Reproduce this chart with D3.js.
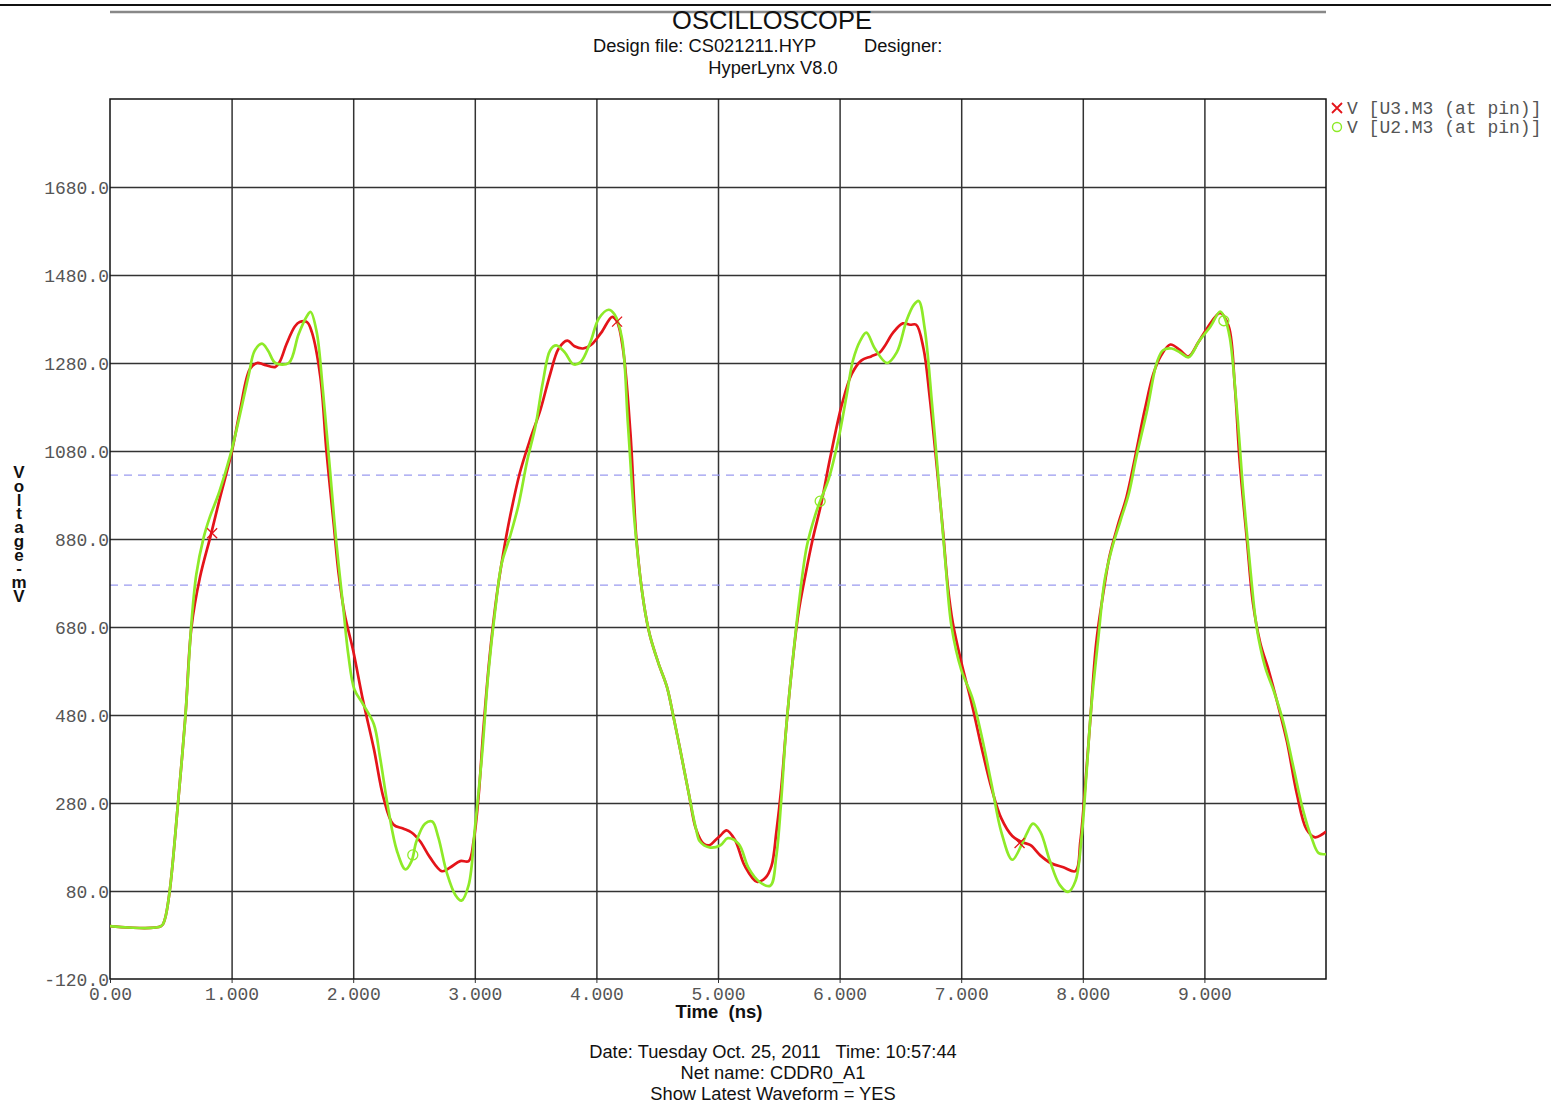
<!DOCTYPE html>
<html>
<head>
<meta charset="utf-8">
<script src="https://cdn.jsdelivr.net/npm/d3@7"></script>
<style>
  body { margin: 0; background: #fff; }
  svg { display: block; }
</style>
</head>
<body>
<svg id="chart" width="1551" height="1104"></svg>
<script>
// time (ns) / voltage (mV)
let u3Time = [0, 0.42, 0.45, 0.49, 0.56, 0.62, 0.67, 0.74, 0.83, 0.90, 1.00, 1.07, 1.15, 1.21, 1.26, 1.36, 1.40, 1.45, 1.52, 1.56, 1.62, 1.66, 1.73, 1.78, 1.84, 1.88, 1.93, 2.00, 2.08, 2.17, 2.25, 2.33, 2.41, 2.48, 2.55, 2.63, 2.73, 2.80, 2.88, 2.95, 2.99, 3.03, 3.07, 3.12, 3.18, 3.23, 3.29, 3.37, 3.45, 3.54, 3.62, 3.69, 3.76, 3.82, 3.89, 3.96, 4.04, 4.13, 4.17, 4.22, 4.28, 4.33, 4.39, 4.44, 4.51, 4.58, 4.63, 4.69, 4.76, 4.82, 4.88, 4.93, 4.98, 5.02, 5.07, 5.14, 5.22, 5.32, 5.39, 5.44, 5.48, 5.52, 5.56, 5.61, 5.66, 5.72, 5.78, 5.85, 5.92, 6.02, 6.10, 6.18, 6.26, 6.33, 6.37, 6.44, 6.52, 6.58, 6.63, 6.69, 6.74, 6.80, 6.85, 6.89, 6.93, 7.00, 7.09, 7.17, 7.25, 7.33, 7.42, 7.50, 7.57, 7.65, 7.74, 7.84, 7.94, 7.98, 8.02, 8.06, 8.11, 8.17, 8.22, 8.29, 8.36, 8.43, 8.51, 8.58, 8.64, 8.72, 8.80, 8.87, 8.95, 9.02, 9.13, 9.20, 9.25, 9.29, 9.35, 9.40, 9.46, 9.53, 9.60, 9.68, 9.76, 9.84, 9.91, 9.97, 10.0]
let u3Volt = [0, 0, 15, 78, 282, 477, 680, 793, 890, 969, 1076, 1173, 1266, 1280, 1277, 1271, 1285, 1322, 1363, 1373, 1373, 1350, 1248, 1080, 913, 802, 709, 626, 514, 403, 291, 231, 222, 213, 193, 157, 125, 134, 148, 148, 193, 292, 445, 607, 751, 841, 931, 1030, 1102, 1174, 1255, 1313, 1331, 1318, 1313, 1322, 1349, 1385, 1374, 1309, 1120, 877, 733, 661, 598, 544, 481, 400, 301, 220, 188, 184, 196, 206, 218, 196, 137, 101, 110, 137, 214, 313, 448, 592, 709, 800, 881, 962, 1061, 1187, 1255, 1286, 1295, 1304, 1318, 1349, 1370, 1367, 1367, 1313, 1205, 1043, 899, 773, 691, 601, 502, 403, 313, 245, 205, 191, 184, 161, 143, 134, 125, 193, 319, 463, 643, 760, 841, 913, 976, 1066, 1174, 1255, 1295, 1322, 1309, 1295, 1327, 1358, 1394, 1363, 1228, 1057, 877, 733, 643, 580, 508, 418, 301, 220, 202, 209, 215]

let u2Time = [0, 0.42, 0.45, 0.49, 0.56, 0.62, 0.67, 0.71, 0.77, 0.82, 0.90, 0.99, 1.07, 1.14, 1.19, 1.25, 1.30, 1.36, 1.47, 1.55, 1.62, 1.65, 1.70, 1.75, 1.81, 1.86, 1.92, 1.96, 2.01, 2.08, 2.17, 2.22, 2.29, 2.36, 2.43, 2.48, 2.52, 2.59, 2.65, 2.70, 2.77, 2.84, 2.89, 2.95, 3.00, 3.06, 3.11, 3.17, 3.22, 3.29, 3.36, 3.43, 3.50, 3.56, 3.62, 3.67, 3.74, 3.81, 3.87, 3.95, 4.02, 4.10, 4.15, 4.21, 4.26, 4.32, 4.39, 4.44, 4.51, 4.58, 4.63, 4.69, 4.76, 4.82, 4.85, 4.93, 5.02, 5.08, 5.17, 5.25, 5.34, 5.43, 5.48, 5.52, 5.56, 5.61, 5.67, 5.73, 5.80, 5.84, 5.91, 5.99, 6.06, 6.11, 6.17, 6.22, 6.29, 6.39, 6.47, 6.55, 6.61, 6.65, 6.70, 6.76, 6.81, 6.87, 6.92, 7.00, 7.09, 7.17, 7.25, 7.33, 7.42, 7.50, 7.54, 7.59, 7.65, 7.73, 7.81, 7.88, 7.94, 7.99, 8.03, 8.07, 8.13, 8.18, 8.24, 8.31, 8.38, 8.44, 8.53, 8.61, 8.66, 8.73, 8.80, 8.87, 8.96, 9.05, 9.13, 9.17, 9.21, 9.27, 9.32, 9.38, 9.43, 9.50, 9.57, 9.65, 9.73, 9.81, 9.88, 9.94, 10.0]
let u2Volt = [0, 0, 15, 78, 282, 477, 690, 800, 883, 929, 988, 1071, 1164, 1252, 1308, 1324, 1308, 1280, 1280, 1345, 1387, 1396, 1350, 1220, 1034, 876, 719, 617, 538, 505, 459, 385, 264, 171, 129, 148, 193, 233, 238, 202, 121, 71, 58, 94, 220, 391, 571, 724, 823, 886, 958, 1057, 1138, 1237, 1309, 1320, 1304, 1277, 1282, 1327, 1381, 1401, 1390, 1336, 1138, 900, 733, 661, 598, 544, 481, 400, 301, 220, 193, 179, 184, 200, 187, 133, 101, 92, 160, 286, 448, 592, 745, 863, 935, 966, 1016, 1106, 1210, 1286, 1331, 1349, 1313, 1280, 1304, 1376, 1412, 1421, 1358, 1187, 1025, 827, 682, 583, 520, 430, 322, 214, 151, 187, 211, 233, 215, 148, 94, 78, 103, 202, 346, 499, 661, 787, 859, 922, 985, 1066, 1174, 1282, 1309, 1313, 1304, 1293, 1331, 1363, 1397, 1380, 1336, 1165, 985, 805, 679, 589, 535, 463, 364, 265, 202, 166, 164]

// marker positions on each trace
let u3MarkT = [0.84, 4.17, 7.48]
let u3MarkV = [893, 1374, 189]
let u2MarkT = [2.49, 5.84, 9.16]
let u2MarkV = [162, 966, 1376]

let thresholds = [1025, 775]

let xTicks = [0, 1, 2, 3, 4, 5, 6, 7, 8, 9]
let xTickLabels = ["0.00", "1.000", "2.000", "3.000", "4.000", "5.000", "6.000", "7.000", "8.000", "9.000"]
let yTicks = [-120, 80, 280, 480, 680, 880, 1080, 1280, 1480, 1680]
let yTickLabels = ["-120.0", "80.0", "280.0", "480.0", "680.0", "880.0", "1080.0", "1280.0", "1480.0", "1680.0"]

let legendNames = ["V [U3.M3 (at pin)]", "V [U2.M3 (at pin)]"]
let colors = { u3: "#e4141a", u2: "#8eea28" }

let sans = "'Liberation Sans', Arial, sans-serif"
let mono = "'Liberation Mono', 'Courier New', monospace"
let margin = { top: 99, right: 225, bottom: 125, left: 110 }
let width = 1551, height = 1104

let svg = d3.select("#chart")
svg.append("rect").attr("width", width).attr("height", height).attr("fill", "#fff")

let scales = {
  x: d3.scaleLinear().domain([0, 10]).range([margin.left, width - margin.right]),
  y: d3.scaleLinear().domain([-120, 1880]).range([height - margin.bottom, margin.top])
}

// header
svg.append("line").attr("x1", 0).attr("x2", width).attr("y1", 5).attr("y2", 5)
  .attr("stroke", "#111").attr("stroke-width", 2)
svg.append("line").attr("x1", margin.left).attr("x2", width - margin.right).attr("y1", 12).attr("y2", 12)
  .attr("stroke", "#888").attr("stroke-width", 2.5)

let header = [
  { text: "OSCILLOSCOPE", x: 772, y: 29, size: 25.5, anchor: "middle" },
  { text: "Design file: CS021211.HYP", x: 593, y: 52, size: 18.3, anchor: "start" },
  { text: "Designer:", x: 864, y: 52, size: 18.3, anchor: "start" },
  { text: "HyperLynx V8.0", x: 773, y: 74, size: 18.3, anchor: "middle" }
]
svg.selectAll("text.header")
  .data(header).enter()
  .append("text")
  .attr("class", "header")
  .attr("x", d => d.x).attr("y", d => d.y)
  .attr("text-anchor", d => d.anchor)
  .attr("font-family", sans).attr("font-size", d => d.size)
  .attr("fill", "#111")
  .text(d => d.text)

// grid
let plot = svg.append("g")
plot.append("g")
  .attr("transform", `translate(0, ${margin.top})`)
  .call(d3.axisBottom(scales.x).tickValues(xTicks.slice(1)).tickSize(height - margin.top - margin.bottom).tickFormat(""))
  .call(g => g.select(".domain").remove())
  .call(g => g.selectAll("line").attr("stroke", "#333").attr("stroke-width", 1.5))

plot.append("g")
  .attr("transform", `translate(${margin.left}, 0)`)
  .call(d3.axisRight(scales.y).tickValues(yTicks.slice(1)).tickSize(width - margin.left - margin.right).tickFormat(""))
  .call(g => g.select(".domain").remove())
  .call(g => g.selectAll("line").attr("stroke", "#333").attr("stroke-width", 1.5))

// threshold lines
plot.selectAll("line.thr")
  .data(thresholds).enter()
  .append("line")
  .attr("class", "thr")
  .attr("x1", scales.x(0)).attr("x2", scales.x(10))
  .attr("y1", d => scales.y(d)).attr("y2", d => scales.y(d))
  .attr("stroke", "#9a9af0").attr("stroke-width", 1.3)
  .attr("stroke-dasharray", "8,6")

plot.append("rect")
  .attr("x", scales.x(0)).attr("y", scales.y(1880))
  .attr("width", scales.x(10) - scales.x(0))
  .attr("height", scales.y(-120) - scales.y(1880))
  .attr("fill", "none").attr("stroke", "#111").attr("stroke-width", 1.5)

// axes labels
let xAxis = svg.append("g")
  .attr("transform", `translate(0, ${scales.y(-120)})`)
  .call(d3.axisBottom(scales.x).tickValues(xTicks).tickSize(4).tickPadding(4).tickFormat((d, i) => xTickLabels[i]))
xAxis.select(".domain").remove()
xAxis.selectAll("line").attr("stroke", "#333")
xAxis.selectAll("text").attr("font-family", mono).attr("font-size", 18).attr("fill", "#555")

let yAxis = svg.append("g")
  .attr("transform", `translate(${margin.left}, 0)`)
  .call(d3.axisLeft(scales.y).tickValues(yTicks).tickSize(0).tickPadding(1).tickFormat((d, i) => yTickLabels[i]))
yAxis.select(".domain").remove()
yAxis.selectAll("text").attr("font-family", mono).attr("font-size", 18).attr("fill", "#555").attr("dy", "0.35em")

svg.append("text").attr("x", 719).attr("y", 1018)
  .attr("text-anchor", "middle")
  .attr("font-family", sans).attr("font-size", 18.5).attr("font-weight", "bold").attr("fill", "#111")
  .attr("xml:space", "preserve")
  .text("Time  (ns)")

// stacked, upright y title
svg.append("text")
  .attr("x", 19).attr("y", 463)
  .attr("font-family", sans).attr("font-size", 17).attr("font-weight", "bold").attr("fill", "#111")
  .attr("textLength", 143).attr("lengthAdjust", "spacing")
  .style("writing-mode", "vertical-rl")
  .style("text-orientation", "upright")
  .text("Voltage-mV")

// traces, green drawn over red
let clip = svg.append("clipPath").attr("id", "plotclip")
clip.append("rect")
  .attr("x", scales.x(0)).attr("y", scales.y(1880))
  .attr("width", scales.x(10) - scales.x(0))
  .attr("height", scales.y(-120) - scales.y(1880))

let traces = [
  { id: "u3", t: u3Time, v: u3Volt },
  { id: "u2", t: u2Time, v: u2Volt }
]
let line_generator = d3.line()
  .x(d => scales.x(d[0]))
  .y(d => scales.y(d[1]))
  .curve(d3.curveCatmullRom.alpha(0.5))

svg.append("g").attr("clip-path", "url(#plotclip)")
  .selectAll("path")
  .data(traces).enter()
  .append("path")
  .attr("d", d => line_generator(d.t.map((t, i) => [t, d.v[i]])))
  .attr("fill", "none")
  .attr("stroke", d => colors[d.id])
  .attr("stroke-width", 2.7)
  .attr("stroke-linejoin", "round")

function crossPath(cx, cy, r) {
  return `M${cx - r},${cy - r}L${cx + r},${cy + r}M${cx - r},${cy + r}L${cx + r},${cy - r}`
}

svg.selectAll("path.u3mark")
  .data(u3MarkT).enter()
  .append("path")
  .attr("class", "u3mark")
  .attr("d", (d, i) => crossPath(scales.x(d), scales.y(u3MarkV[i]), 5))
  .attr("stroke", colors.u3).attr("stroke-width", 1.3).attr("fill", "none")

svg.selectAll("circle.u2mark")
  .data(u2MarkT).enter()
  .append("circle")
  .attr("class", "u2mark")
  .attr("cx", d => scales.x(d)).attr("cy", (d, i) => scales.y(u2MarkV[i]))
  .attr("r", 5)
  .attr("stroke", colors.u2).attr("stroke-width", 1.3).attr("fill", "none")

// legend
let legend = svg.append("g").attr("transform", "translate(1337, 108)")
legend.append("path").attr("d", crossPath(0, 0, 5))
  .attr("stroke", colors.u3).attr("stroke-width", 1.8).attr("fill", "none")
legend.append("circle").attr("cx", 0).attr("cy", 19).attr("r", 4.5)
  .attr("stroke", colors.u2).attr("stroke-width", 1.4).attr("fill", "none")
legend.selectAll("text")
  .data(legendNames).enter()
  .append("text")
  .attr("x", 10).attr("y", (d, i) => 6 + i * 19)
  .attr("font-family", mono).attr("font-size", 18).attr("fill", "#555")
  .attr("xml:space", "preserve")
  .text(d => d)

// footer
let footer = ["Date: Tuesday Oct. 25, 2011   Time: 10:57:44", "Net name: CDDR0_A1", "Show Latest Waveform = YES"]
svg.selectAll("text.footer")
  .data(footer).enter()
  .append("text")
  .attr("class", "footer")
  .attr("x", 773).attr("y", (d, i) => 1058 + i * 21)
  .attr("text-anchor", "middle")
  .attr("font-family", sans).attr("font-size", 18.3).attr("fill", "#111")
  .attr("xml:space", "preserve")
  .text(d => d)
</script>
</body>
</html>
